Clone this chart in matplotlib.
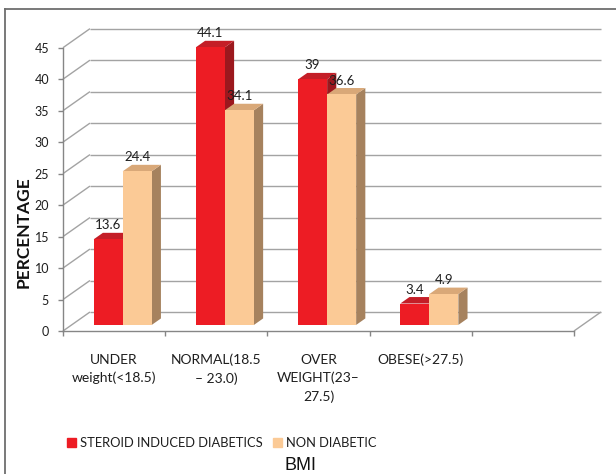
import matplotlib
matplotlib.use("Agg")
import matplotlib.pyplot as plt
from matplotlib.patches import Polygon, Patch
from matplotlib.lines import Line2D

# ---- data -------------------------------------------------------------
categories = [
    "UNDER\nweight(<18.5)",
    "NORMAL(18.5\n\u2013 23.0)",
    "OVER\nWEIGHT(23\u2013\n27.5)",
    "OBESE(>27.5)",
]
steroid_diabetics = [13.6, 44.1, 39, 3.4]
non_diabetic = [24.4, 34.1, 36.6, 4.9]
series_names = ["STEROID INDUCED DIABETICS", "NON DIABETIC"]
y_ticks = [0, 5, 10, 15, 20, 25, 30, 35, 40, 45]
x_title = "BMI"
y_title = "PERCENTAGE"

# ---- style ------------------------------------------------------------
plt.rcParams["font.family"] = ["Lato", "DejaVu Sans"]
RED = ("#ED1C24", "#C41E27", "#9C181E")   # front, top, side
TAN = ("#FBCA96", "#D9A878", "#A6825E")
GRID = "#a3a3a3"
AXIS = "#868686"
TEXT = "#1e1e1e"

fig = plt.figure(figsize=(6.16, 4.74), dpi=100)

n_slots = len(categories) + 1          # one empty slot on the right
DX, DY = 0.264, 3.02                   # depth of the 3-D box in data units
ymax = y_ticks[-1]
ax = fig.add_axes([63 / 616, 143 / 474,
                   (n_slots + DX) * 102.2 / 616,
                   (ymax + DY) * 6.296 / 474])
ax.set_xlim(0, n_slots + DX)
ax.set_ylim(0, ymax + DY)
ax.patch.set_visible(False)

# back wall gridlines, side-wall diagonals and floor edge
grid_kw = dict(color=GRID, lw=1.0, zorder=1, solid_capstyle="butt", clip_on=False)
for t in y_ticks:
    ax.plot([DX, n_slots + DX], [t + DY, t + DY], **grid_kw)
    ax.plot([0, DX], [t, t + DY], **grid_kw)
ax.plot([n_slots, n_slots + DX], [0, DY], **grid_kw)

# ---- 3-D bars ---------------------------------------------------------
w = 0.284
d0, d1 = 0.32, 0.66


def draw_bar(xl, v, cols, z):
    fx, fy = d0 * DX, d0 * DY
    bx, by = d1 * DX, d1 * DY
    side = Polygon([(xl + w + fx, fy), (xl + w + bx, by),
                    (xl + w + bx, v + by), (xl + w + fx, v + fy)],
                   closed=True, facecolor=cols[2], edgecolor="none", zorder=z)
    top = Polygon([(xl + fx, v + fy), (xl + w + fx, v + fy),
                   (xl + w + bx, v + by), (xl + bx, v + by)],
                  closed=True, facecolor=cols[1], edgecolor="none", zorder=z)
    ax.add_patch(side)
    ax.add_patch(top)
    ax.bar(xl + fx, v, width=w, bottom=fy, align="edge",
           color=cols[0], lw=0, zorder=z)
    return xl + w / 2 + fx, v + fy


label_pts = []
for i, (a, b) in enumerate(zip(steroid_diabetics, non_diabetic)):
    c = i + 0.5
    label_pts.append((draw_bar(c - w, a, RED, 3), a))
    label_pts.append((draw_bar(c, b, TAN, 4), b))

for (x, y), v in label_pts:
    ax.annotate(f"{v:g}", (x, y), xytext=(0, 10), textcoords="offset points",
                ha="center", va="center", fontsize=9.5, color=TEXT, zorder=10)

# ---- axes -------------------------------------------------------------
for s in ("top", "right"):
    ax.spines[s].set_visible(False)
for s in ("left", "bottom"):
    ax.spines[s].set_color(AXIS)
    ax.spines[s].set_linewidth(1.0)
    ax.spines[s].set_zorder(2)
ax.spines["left"].set_bounds(0, ymax)
ax.spines["bottom"].set_bounds(0, n_slots)

ax.set_yticks(y_ticks)
ax.tick_params(axis="y", length=3.6, width=1.0, color=AXIS, labelsize=9,
               labelcolor=TEXT, pad=6.5)

ax.set_xticks(range(n_slots + 1))
ax.set_xticklabels([])
ax.set_xticks([i + 0.5 for i in range(len(categories))], minor=True)
ax.set_xticklabels(categories, minor=True)
ax.tick_params(axis="x", which="major", length=3.6, width=1.0, color=AXIS)
ax.tick_params(axis="x", which="minor", length=0, pad=16.5, labelsize=10,
               labelcolor=TEXT)
for lbl in ax.get_xticklabels(minor=True):
    lbl.set_linespacing(1.55)
    lbl.set_verticalalignment("top")

fig.text(24 / 616, 1 - 232 / 474, y_title, rotation=90, fontweight="bold",
         fontsize=12.5, ha="center", va="center", color="#111111")

fig.legend(handles=[Patch(color=RED[0]), Patch(color=TAN[0])],
           labels=series_names, loc="center",
           bbox_to_anchor=(222 / 616, 1 - 443 / 474), ncol=2, frameon=False,
           fontsize=9.3, handlelength=0.7, handleheight=0.65,
           handletextpad=0.3, columnspacing=0.8, borderpad=0,
           borderaxespad=0, labelcolor=TEXT)

fig.text(300.5 / 616, 0.5 / 474, x_title, family=["Liberation Sans"],
         fontsize=13, ha="center", va="bottom", color="#111111")

# chart border (top and left edges)
fig.add_artist(Line2D([5 / 616, 5 / 616], [0, 1 - 9 / 474],
                      transform=fig.transFigure, color="#6e6e6e", lw=1.3))
fig.add_artist(Line2D([5 / 616, 1], [1 - 9 / 474, 1 - 9 / 474],
                      transform=fig.transFigure, color="#6e6e6e", lw=1.3))

fig.savefig("out.png", dpi=100)
